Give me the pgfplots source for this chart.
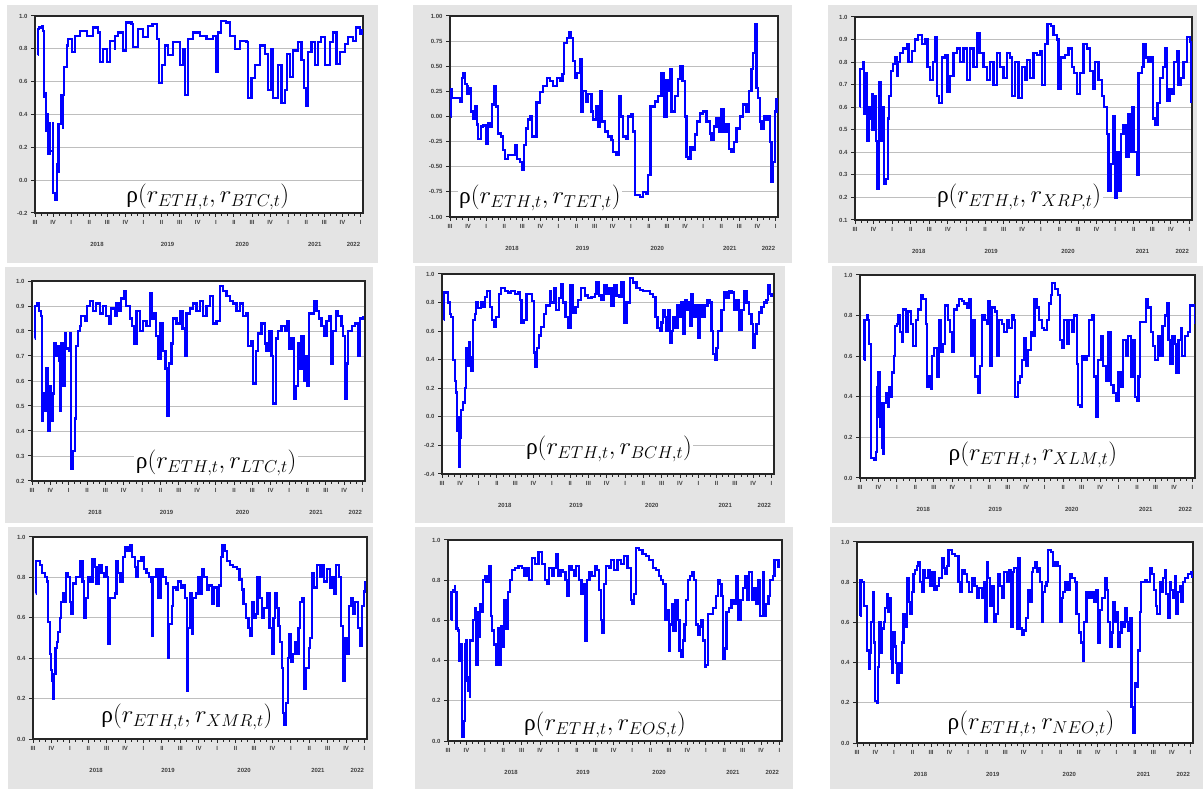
\documentclass[border=0pt]{standalone}
\usepackage{fontspec}
\setmainfont{Liberation Sans}
\newfontfamily\rhofont{Liberation Serif}
\usepackage{pgfplots}
\pgfplotsset{compat=1.18}

\definecolor{panelbg}{HTML}{E4E4E4}
\definecolor{gridc}{HTML}{BEBEBE}

\newcommand\corrlabel[1]{{\rhofont ρ}$(r_{ETH,t}, r_{#1,t})$}
\newcommand\tickfont{\fontsize{6}{7}\selectfont\bfseries}
\newcommand\yearlabels{%
  \node[font=\tickfont, text=black!75] at (rel axis cs:0.189,0) [yshift=-31bp] {2018};
  \node[font=\tickfont, text=black!75] at (rel axis cs:0.404,0) [yshift=-31bp] {2019};
  \node[font=\tickfont, text=black!75] at (rel axis cs:0.632,0) [yshift=-31bp] {2020};
  \node[font=\tickfont, text=black!75] at (rel axis cs:0.853,0) [yshift=-31bp] {2021};
  \node[font=\tickfont, text=black!75] at (rel axis cs:0.971,0) [yshift=-31bp] {2022};
}

\tikzset{rholabel/.style={fill=white, inner sep=1.5bp, font=\fontsize{23.5}{25}\selectfont}}

\pgfplotsset{
  panel/.style={
    scale only axis, anchor=south west,
    xmin=0, xmax=54.4,
    axis background/.style={fill=white},
    axis line style={line width=1.3pt, black!85},
    xtick={0,3,...,54},
    xticklabels={III,IV,I,II,III,IV,I,II,III,IV,I,II,III,IV,I,II,III,IV,I},
    minor x tick num=2,
    tick align=outside, tick pos=left,
    major tick length=4bp, minor tick length=3bp,
    every tick/.style={black!85, line width=1pt},
    ymajorgrids, grid style={gridc, line width=0.9pt},
    ticklabel style={font=\tickfont, text=black!75},
    /pgf/number format/assume math mode=true,
    yticklabel style={/pgf/number format/.cd, fixed, fixed zerofill, precision=1},
    clip mode=individual,
  },
  series/.style={const plot, color=blue, line width=2.2pt, mark=none},
}

\begin{document}
\begin{tikzpicture}
\path (0,0) rectangle (1203bp,789bp);
% panel backgrounds
\fill[panelbg] (7bp,526bp) rectangle (378bp,784bp);
\fill[panelbg] (413bp,526bp) rectangle (792bp,784bp);
\fill[panelbg] (828bp,526bp) rectangle (1197bp,784bp);
\fill[panelbg] (5bp,266bp) rectangle (373bp,522bp);
\fill[panelbg] (415bp,266bp) rectangle (785bp,523bp);
\fill[panelbg] (832bp,266bp) rectangle (1203bp,523bp);
\fill[panelbg] (8bp,0bp) rectangle (373bp,262bp);
\fill[panelbg] (415bp,0bp) rectangle (793bp,262bp);
\fill[panelbg] (830bp,0bp) rectangle (1203bp,262bp);

% ETH-BTC
\begin{axis}[panel, at={(35bp,576bp)}, width=328bp, height=197bp,
  ymin=-0.2, ymax=1.0, ytick={-0.2,0,0.2,0.4,0.6,0.8,1.0}]
\addplot[series] coordinates {(0.44,0.76)(0.46,0.92)(0.72,0.93)(1.1,0.94)(1.27,0.91)(1.55,0.51)(1.82,0.53)(1.85,0.30)(2.1,0.40)(2.13,0.16)(2.5,0.35)(2.53,0.18)(2.93,0.35)(2.96,-0.08)(3.3,-0.12)(3.6,0.10)(3.87,0.05)(3.9,0.34)(4.25,0.35)(4.28,0.52)(4.6,0.32)(4.63,0.52)(4.86,0.69)(5.25,0.82)(5.52,0.86)(6.08,0.83)(6.11,0.78)(6.63,0.88)(7.46,0.91)(8.56,0.88)(9.67,0.93)(10.5,0.90)(10.77,0.72)(11.33,0.8)(11.88,0.72)(12.43,0.85)(13.26,0.8)(13.29,0.88)(13.81,0.9)(14.64,0.79)(15.08,0.96)(16.02,0.95)(16.3,0.81)(17.13,0.92)(17.96,0.87)(18.78,0.94)(19.5,0.95)(20.17,0.86)(20.6,0.59)(21.0,0.7)(21.55,0.82)(22.1,0.76)(22.93,0.84)(24.03,0.7)(24.48,0.8)(24.86,0.52)(25.41,0.86)(26.24,0.9)(27.35,0.88)(28.45,0.86)(29.56,0.88)(30.0,0.66)(30.39,0.9)(30.83,0.97)(31.66,0.96)(32.32,0.88)(33.15,0.8)(33.98,0.85)(35.08,0.84)(35.36,0.5)(35.91,0.62)(36.46,0.7)(37.29,0.82)(38.12,0.77)(38.67,0.55)(39.23,0.8)(39.5,0.5)(40.33,0.7)(40.88,0.47)(41.44,0.55)(41.82,0.77)(42.27,0.63)(42.82,0.79)(43.65,0.84)(44.2,0.73)(44.59,0.56)(44.92,0.45)(45.3,0.78)(45.86,0.84)(46.4,0.7)(46.96,0.84)(47.5,0.87)(48.07,0.7)(48.9,0.84)(49.45,0.9)(50.0,0.71)(50.55,0.78)(51.38,0.83)(51.93,0.87)(52.76,0.85)(53.3,0.93)(53.87,0.89)(54.3,0.92)};
\node[rholabel] at (rel axis cs:0.527,0.081) {\corrlabel{BTC}};
\yearlabels
\end{axis}

% ETH-TET
\begin{axis}[panel, at={(450bp,572bp)}, width=328bp, height=201bp,
  ymin=-1, ymax=1, ytick={-1,-0.75,-0.5,-0.25,0,0.25,0.5,0.75,1},
  yticklabel style={/pgf/number format/.cd, fixed, fixed zerofill, precision=2}]
\addplot[series] coordinates {(0.1,0.0)(0.12,0.27)(0.28,0.18)(1.1,0.18)(1.66,0.15)(1.93,0.38)(2.2,0.43)(2.49,0.32)(2.87,0.3)(2.9,0.22)(3.2,0.28)(3.43,0.05)(3.87,-0.02)(4.14,0.1)(4.42,-0.08)(4.7,-0.22)(5.08,-0.1)(5.52,-0.09)(5.97,-0.27)(6.35,-0.07)(6.63,-0.1)(6.96,0.12)(7.29,0.22)(7.32,0.3)(7.62,0.1)(8.0,-0.17)(8.4,-0.2)(8.84,-0.33)(9.12,-0.42)(9.67,-0.38)(10.22,-0.38)(10.77,-0.28)(11.05,-0.42)(11.6,-0.45)(11.93,-0.53)(12.27,-0.28)(12.6,-0.12)(12.98,-0.03)(13.26,0.0)(13.54,-0.2)(14.09,-0.2)(14.36,0.14)(14.92,0.24)(15.47,0.3)(16.02,0.38)(16.57,0.35)(17.13,0.3)(17.68,0.38)(18.23,0.35)(18.67,0.42)(18.95,0.73)(19.34,0.78)(19.72,0.84)(20.06,0.78)(20.44,0.55)(20.72,0.38)(21.1,0.43)(21.55,0.57)(21.82,0.05)(22.1,0.25)(22.54,0.15)(22.93,0.22)(23.48,0.05)(23.76,-0.03)(24.3,0.1)(24.6,-0.1)(24.86,0.25)(25.14,-0.05)(25.7,-0.15)(26.24,-0.2)(26.8,-0.23)(27.07,-0.35)(27.62,-0.38)(28.0,0.2)(28.34,0.0)(28.73,-0.2)(29.17,-0.22)(29.56,0.0)(30.1,0.02)(30.39,-0.15)(30.66,-0.78)(31.5,-0.8)(32.04,-0.75)(32.6,-0.77)(32.87,-0.58)(33.26,0.1)(33.98,0.15)(34.53,0.2)(35.08,0.43)(35.47,0.0)(35.9,0.36)(36.2,0.25)(36.46,0.47)(36.74,0.05)(37.29,0.2)(37.85,0.37)(38.23,0.5)(38.56,0.35)(38.95,0.0)(39.23,-0.4)(39.5,-0.42)(39.9,-0.3)(40.22,-0.33)(40.6,-0.18)(41.0,-0.05)(41.44,0.03)(42.0,0.05)(42.54,-0.05)(43.1,-0.17)(43.37,-0.23)(43.76,-0.1)(44.2,-0.02)(44.64,-0.15)(45.03,0.07)(45.41,-0.15)(45.86,-0.08)(46.3,-0.32)(46.69,-0.35)(47.07,-0.25)(47.51,-0.12)(48.07,0.0)(48.62,0.12)(49.17,0.05)(49.61,0.25)(50.0,0.47)(50.28,0.63)(50.55,0.92)(50.83,0.28)(51.1,0.18)(51.38,-0.05)(51.66,-0.12)(52.04,0.0)(52.49,-0.03)(52.76,0.0)(53.04,-0.25)(53.31,-0.65)(53.6,-0.45)(53.87,0.05)(54.14,0.18)};
\node[rholabel] at (rel axis cs:0.274,0.095) {\corrlabel{TET}};
\yearlabels
\end{axis}

% ETH-XRP
\begin{axis}[panel, at={(855bp,569bp)}, width=337bp, height=203bp,
  ymin=0.1, ymax=1.0, ytick={0.1,0.2,0.3,0.4,0.5,0.6,0.7,0.8,0.9,1.0}]
\addplot[series] coordinates {(0.81,0.6)(0.83,0.77)(1.24,0.8)(1.5,0.57)(1.78,0.75)(2.0,0.45)(2.3,0.6)(2.53,0.55)(2.8,0.66)(2.83,0.5)(3.12,0.65)(3.34,0.45)(3.6,0.24)(3.88,0.71)(4.15,0.45)(4.42,0.6)(4.68,0.26)(5.0,0.28)(5.28,0.55)(5.55,0.65)(5.82,0.76)(6.08,0.79)(6.46,0.82)(6.73,0.74)(7.0,0.8)(7.27,0.84)(7.81,0.86)(8.35,0.88)(8.62,0.8)(9.15,0.85)(9.69,0.9)(10.23,0.92)(10.77,0.88)(11.31,0.9)(11.69,0.78)(12.12,0.72)(12.55,0.8)(12.92,0.91)(13.19,0.65)(13.62,0.62)(14.0,0.82)(14.54,0.83)(14.92,0.67)(15.35,0.74)(15.89,0.84)(16.42,0.86)(16.96,0.8)(17.5,0.86)(18.04,0.72)(18.58,0.86)(19.12,0.78)(19.66,0.93)(20.09,0.84)(20.73,0.78)(21.27,0.72)(21.81,0.8)(22.35,0.7)(22.89,0.84)(23.42,0.78)(23.96,0.73)(24.5,0.84)(25.04,0.82)(25.31,0.65)(25.85,0.8)(26.39,0.64)(26.93,0.78)(27.46,0.72)(27.73,0.81)(28.27,0.73)(28.81,0.84)(29.35,0.83)(29.89,0.85)(30.16,0.7)(30.69,0.88)(31.07,0.97)(31.61,0.96)(32.04,0.92)(32.58,0.9)(32.85,0.68)(33.23,0.82)(33.93,0.83)(34.46,0.86)(35.0,0.78)(35.38,0.75)(35.81,0.66)(36.35,0.75)(36.89,0.88)(37.43,0.86)(37.96,0.76)(38.39,0.68)(38.77,0.8)(39.31,0.72)(39.85,0.65)(40.23,0.6)(40.66,0.48)(40.93,0.23)(41.3,0.35)(41.73,0.56)(42.0,0.2)(42.27,0.4)(42.54,0.23)(42.92,0.48)(43.35,0.52)(43.78,0.38)(44.16,0.57)(44.43,0.4)(44.7,0.6)(45.07,0.4)(45.5,0.3)(45.77,0.75)(46.31,0.78)(46.58,0.88)(47.01,0.82)(47.39,0.8)(47.82,0.82)(48.09,0.55)(48.47,0.52)(48.84,0.62)(49.27,0.73)(49.7,0.78)(50.08,0.86)(50.35,0.63)(50.78,0.68)(51.16,0.66)(51.53,0.8)(51.97,0.85)(52.23,0.7)(52.61,0.73)(53.04,0.8)(53.58,0.91)(54.01,0.89)(54.23,0.62)};
\node[rholabel] at (rel axis cs:0.487,0.113) {\corrlabel{XRP}};
\yearlabels
\end{axis}

% ETH-LTC
\begin{axis}[panel, at={(32bp,308bp)}, width=333bp, height=200bp,
  ymin=0.2, ymax=1.0, ytick={0.2,0.3,0.4,0.5,0.6,0.7,0.8,0.9,1.0}]
\addplot[series] coordinates {(0.44,0.77)(0.46,0.9)(0.82,0.91)(1.14,0.88)(1.42,0.86)(1.58,0.44)(1.8,0.55)(2.07,0.48)(2.34,0.65)(2.62,0.4)(2.89,0.58)(3.16,0.44)(3.43,0.55)(3.6,0.75)(3.87,0.7)(4.09,0.74)(4.36,0.68)(4.52,0.48)(4.8,0.75)(5.07,0.58)(5.34,0.79)(5.61,0.73)(5.99,0.72)(6.27,0.79)(6.43,0.25)(6.7,0.32)(6.98,0.45)(7.25,0.74)(7.52,0.8)(7.79,0.82)(8.07,0.86)(8.61,0.84)(8.99,0.9)(9.43,0.92)(9.97,0.88)(10.52,0.91)(11.06,0.87)(11.61,0.9)(12.15,0.86)(12.59,0.83)(12.97,0.89)(13.51,0.86)(13.79,0.91)(14.17,0.88)(14.6,0.93)(14.99,0.96)(15.42,0.9)(15.97,0.85)(16.4,0.82)(16.68,0.75)(17.06,0.88)(17.6,0.8)(18.15,0.84)(18.69,0.82)(19.24,0.95)(19.51,0.85)(19.89,0.87)(20.22,0.78)(20.6,0.69)(20.98,0.83)(21.42,0.72)(21.8,0.65)(22.07,0.62)(22.1,0.46)(22.4,0.67)(22.78,0.75)(23.05,0.85)(23.6,0.83)(24.14,0.88)(24.58,0.81)(24.96,0.7)(25.23,0.87)(25.78,0.89)(26.32,0.91)(26.87,0.88)(27.41,0.92)(27.96,0.86)(28.5,0.9)(29.05,0.94)(29.59,0.83)(30.14,0.84)(30.68,0.98)(31.23,0.96)(31.77,0.94)(32.32,0.92)(32.86,0.91)(33.41,0.88)(33.95,0.91)(34.5,0.86)(35.04,0.87)(35.31,0.74)(35.86,0.76)(36.13,0.59)(36.57,0.72)(36.95,0.79)(37.49,0.83)(38.04,0.75)(38.31,0.72)(38.75,0.8)(39.13,0.7)(39.4,0.51)(39.84,0.77)(40.22,0.8)(40.76,0.82)(41.31,0.8)(41.69,0.84)(42.02,0.73)(42.4,0.77)(42.78,0.53)(43.11,0.58)(43.49,0.75)(43.76,0.65)(44.03,0.78)(44.41,0.6)(44.74,0.7)(44.96,0.58)(45.29,0.87)(45.67,0.87)(46.05,0.92)(46.49,0.88)(46.92,0.85)(47.3,0.82)(47.68,0.78)(48.12,0.84)(48.56,0.86)(48.83,0.67)(49.21,0.8)(49.65,0.88)(50.03,0.86)(50.57,0.82)(50.84,0.78)(51.12,0.53)(51.39,0.67)(51.66,0.8)(52.21,0.82)(52.75,0.83)(53.3,0.7)(53.57,0.85)(54.11,0.86)};
\node[rholabel] at (rel axis cs:0.553,0.09) {\corrlabel{LTC}};
\yearlabels
\end{axis}

% ETH-BCH
\begin{axis}[panel, at={(442bp,315bp)}, width=332bp, height=200bp,
  ymin=-0.4, ymax=1.0, ytick={-0.4,-0.2,0,0.2,0.4,0.6,0.8,1.0}]
\addplot[series] coordinates {(0.33,0.68)(0.35,0.87)(0.71,0.87)(0.98,0.8)(1.26,0.72)(1.53,0.7)(1.8,0.4)(2.08,0.25)(2.24,0.17)(2.46,0.1)(2.49,-0.1)(2.62,0.0)(2.79,-0.35)(3.0,-0.15)(3.17,0.05)(3.44,0.1)(3.72,0.2)(3.88,0.48)(4.15,0.36)(4.37,0.52)(4.59,0.42)(4.81,0.32)(5.08,0.68)(5.36,0.72)(5.52,0.8)(5.9,0.76)(6.34,0.8)(6.72,0.77)(6.99,0.84)(7.43,0.88)(7.81,0.77)(8.2,0.68)(8.52,0.63)(8.91,0.7)(9.29,0.86)(9.73,0.9)(10.27,0.88)(10.82,0.87)(11.37,0.88)(11.91,0.86)(12.46,0.87)(12.73,0.82)(13.01,0.66)(13.44,0.68)(13.83,0.86)(14.37,0.86)(14.75,0.81)(15.08,0.45)(15.3,0.35)(15.63,0.48)(15.9,0.57)(16.28,0.63)(16.72,0.72)(17.1,0.78)(17.65,0.88)(17.92,0.8)(18.36,0.9)(18.74,0.75)(19.13,0.83)(19.45,0.93)(19.84,0.8)(20.22,0.7)(20.66,0.62)(21.04,0.92)(21.48,0.73)(21.86,0.77)(22.3,0.82)(22.84,0.9)(23.39,0.85)(23.93,0.83)(24.48,0.84)(25.03,0.86)(25.3,0.94)(25.68,0.85)(26.12,0.82)(26.56,0.92)(26.94,0.86)(27.32,0.9)(27.76,0.78)(28.2,0.92)(28.58,0.85)(28.96,0.84)(29.4,0.94)(29.84,0.66)(30.22,0.8)(30.77,0.97)(31.31,0.94)(31.86,0.9)(32.4,0.89)(32.95,0.88)(33.5,0.88)(34.04,0.86)(34.59,0.84)(34.97,0.7)(35.3,0.62)(35.68,0.6)(35.96,0.66)(36.23,0.75)(36.5,0.7)(36.78,0.6)(37.05,0.75)(37.32,0.52)(37.6,0.6)(37.87,0.7)(38.25,0.62)(38.58,0.78)(38.96,0.7)(39.23,0.8)(39.51,0.58)(39.78,0.82)(40.05,0.75)(40.33,0.8)(40.6,0.64)(40.87,0.86)(41.15,0.7)(41.53,0.78)(41.97,0.55)(42.24,0.78)(42.68,0.7)(43.06,0.78)(43.5,0.82)(43.88,0.8)(44.15,0.6)(44.43,0.44)(44.7,0.4)(44.97,0.48)(45.25,0.6)(45.79,0.75)(46.23,0.87)(46.61,0.83)(47.0,0.88)(47.43,0.87)(47.87,0.75)(48.25,0.82)(48.69,0.61)(49.07,0.75)(49.51,0.88)(49.89,0.8)(50.27,0.72)(50.71,0.65)(50.98,0.48)(51.26,0.58)(51.53,0.65)(51.91,0.73)(52.35,0.77)(52.79,0.8)(53.17,0.82)(53.44,0.92)(53.72,0.86)(53.99,0.84)};
\node[rholabel] at (rel axis cs:0.503,0.125) {\corrlabel{BCH}};
\yearlabels
\end{axis}

% ETH-XLM
\begin{axis}[panel, at={(860bp,311bp)}, width=335bp, height=203bp,
  ymin=0, ymax=1.0, ytick={0,0.2,0.4,0.6,0.8,1.0}]
\addplot[series] coordinates {(0.7,0.58)(0.72,0.78)(1.08,0.8)(1.35,0.78)(1.52,0.66)(1.73,0.1)(2.0,0.1)(2.27,0.09)(2.54,0.13)(2.76,0.45)(2.98,0.3)(3.0,0.52)(3.25,0.25)(3.52,0.15)(3.55,0.37)(3.79,0.12)(3.95,0.37)(4.22,0.42)(4.49,0.35)(4.71,0.45)(4.98,0.4)(5.25,0.52)(5.47,0.6)(5.68,0.75)(5.96,0.76)(6.23,0.8)(6.5,0.72)(6.77,0.67)(7.04,0.83)(7.42,0.72)(7.85,0.82)(8.28,0.76)(8.66,0.65)(9.04,0.78)(9.47,0.83)(9.91,0.9)(10.29,0.88)(10.67,0.76)(10.94,0.45)(11.21,0.5)(11.53,0.44)(11.75,0.6)(12.07,0.64)(12.45,0.5)(12.83,0.78)(13.16,0.62)(13.54,0.66)(13.81,0.85)(14.24,0.78)(14.62,0.72)(15.0,0.62)(15.32,0.83)(15.7,0.85)(16.08,0.88)(16.51,0.87)(16.95,0.86)(17.33,0.84)(17.7,0.88)(18.03,0.6)(18.41,0.78)(18.68,0.5)(19.11,0.42)(19.49,0.55)(19.76,0.8)(20.2,0.78)(20.57,0.76)(20.84,0.87)(21.12,0.55)(21.39,0.84)(21.93,0.82)(22.2,0.6)(22.58,0.78)(23.01,0.76)(23.44,0.72)(23.82,0.78)(24.2,0.74)(24.63,0.8)(24.91,0.78)(25.18,0.4)(25.61,0.47)(25.99,0.5)(26.37,0.58)(26.69,0.69)(26.96,0.55)(27.34,0.63)(27.78,0.72)(27.99,0.7)(28.32,0.88)(28.7,0.84)(29.07,0.78)(29.51,0.74)(29.94,0.73)(30.32,0.78)(30.7,0.86)(31.02,0.9)(31.24,0.96)(31.67,0.93)(32.11,0.9)(32.49,0.68)(32.76,0.64)(33.19,0.78)(33.57,0.66)(33.95,0.78)(34.38,0.72)(34.81,0.8)(35.19,0.56)(35.46,0.36)(35.73,0.35)(36.01,0.6)(36.44,0.58)(36.82,0.6)(37.2,0.78)(37.63,0.8)(38.06,0.5)(38.33,0.3)(38.71,0.58)(39.14,0.7)(39.52,0.55)(39.9,0.48)(40.34,0.72)(40.77,0.46)(41.15,0.42)(41.53,0.38)(41.96,0.52)(42.39,0.45)(42.77,0.68)(43.15,0.6)(43.58,0.7)(44.02,0.5)(44.4,0.68)(44.67,0.4)(44.94,0.38)(45.21,0.5)(45.48,0.77)(46.02,0.77)(46.45,0.88)(46.83,0.84)(47.27,0.72)(47.64,0.65)(47.92,0.58)(48.35,0.7)(48.73,0.6)(49.11,0.75)(49.54,0.8)(49.81,0.86)(50.08,0.68)(50.35,0.56)(50.73,0.7)(51.16,0.66)(51.33,0.52)(51.71,0.68)(52.08,0.74)(52.35,0.6)(52.79,0.7)(53.22,0.72)(53.6,0.85)(54.14,0.85)(54.41,0.76)};
\node[rholabel] at (rel axis cs:0.516,0.113) {\corrlabel{XLM}};
\yearlabels
\end{axis}

% ETH-XMR
\begin{axis}[panel, at={(33bp,50bp)}, width=334bp, height=202bp,
  ymin=0, ymax=1.0, ytick={0,0.2,0.4,0.6,0.8,1.0}]
\addplot[series] coordinates {(0.44,0.72)(0.46,0.88)(0.82,0.88)(1.2,0.86)(1.52,0.82)(1.9,0.8)(2.29,0.78)(2.5,0.58)(2.72,0.42)(2.88,0.34)(3.1,0.29)(3.26,0.2)(3.43,0.32)(3.65,0.45)(3.92,0.48)(4.13,0.53)(4.35,0.6)(4.62,0.68)(4.9,0.72)(5.17,0.68)(5.44,0.82)(5.71,0.8)(5.98,0.68)(6.26,0.62)(6.53,0.77)(6.96,0.8)(7.34,0.8)(7.62,0.88)(8.05,0.78)(8.27,0.6)(8.6,0.7)(8.98,0.8)(9.36,0.78)(9.68,0.89)(10.07,0.85)(10.34,0.77)(10.77,0.86)(11.15,0.82)(11.53,0.8)(11.86,0.85)(12.08,0.8)(12.24,0.47)(12.51,0.7)(12.95,0.7)(13.33,0.72)(13.6,0.88)(13.87,0.82)(14.25,0.78)(14.69,0.9)(14.96,0.95)(15.4,0.93)(15.78,0.96)(16.16,0.9)(16.59,0.85)(16.87,0.8)(17.14,0.88)(17.68,0.9)(18.06,0.84)(18.5,0.82)(18.93,0.8)(19.31,0.78)(19.34,0.51)(19.59,0.8)(20.02,0.84)(20.4,0.7)(20.78,0.84)(21.22,0.8)(21.6,0.77)(21.93,0.4)(22.2,0.57)(22.58,0.66)(22.85,0.75)(23.29,0.74)(23.67,0.78)(24.05,0.75)(24.37,0.76)(24.76,0.7)(25.03,0.24)(25.3,0.55)(25.57,0.72)(25.84,0.52)(26.12,0.7)(26.55,0.72)(26.93,0.8)(27.2,0.72)(27.48,0.84)(27.86,0.8)(28.29,0.74)(28.73,0.76)(29.11,0.67)(29.49,0.75)(29.92,0.66)(30.25,0.76)(30.58,0.9)(30.85,0.96)(31.28,0.93)(31.66,0.88)(32.1,0.86)(32.64,0.85)(33.19,0.84)(33.62,0.79)(34.0,0.74)(34.28,0.67)(34.71,0.6)(35.09,0.55)(35.36,0.51)(35.64,0.68)(35.91,0.6)(36.34,0.62)(36.56,0.8)(36.89,0.7)(37.27,0.6)(37.65,0.65)(38.08,0.72)(38.52,0.55)(38.9,0.42)(39.17,0.6)(39.45,0.72)(39.72,0.65)(39.99,0.56)(40.26,0.48)(40.53,0.35)(40.7,0.13)(40.97,0.07)(41.24,0.18)(41.51,0.4)(41.78,0.52)(42.0,0.38)(42.33,0.42)(42.71,0.48)(42.98,0.42)(43.25,0.55)(43.53,0.68)(43.85,0.7)(44.18,0.25)(44.5,0.35)(44.89,0.45)(45.16,0.5)(45.43,0.82)(45.81,0.75)(46.25,0.86)(46.68,0.8)(47.06,0.86)(47.44,0.78)(47.88,0.84)(48.31,0.75)(48.69,0.8)(48.97,0.72)(49.4,0.86)(49.78,0.8)(50.16,0.56)(50.49,0.29)(50.76,0.5)(51.14,0.42)(51.41,0.66)(51.8,0.7)(52.12,0.62)(52.5,0.68)(52.88,0.55)(53.21,0.46)(53.59,0.66)(53.86,0.73)(54.13,0.78)};
\node[rholabel] at (rel axis cs:0.461,0.109) {\corrlabel{XMR}};
\yearlabels
\end{axis}

% ETH-EOS
\begin{axis}[panel, at={(448bp,48bp)}, width=334bp, height=201bp,
  ymin=0, ymax=1.0, ytick={0,0.2,0.4,0.6,0.8,1.0}]
\addplot[series] coordinates {(0.55,0.6)(0.57,0.74)(0.82,0.75)(1.09,0.77)(1.12,0.74)(1.37,0.56)(1.64,0.55)(1.8,0.4)(2.08,0.48)(2.3,0.02)(2.51,0.1)(2.73,0.48)(2.76,0.3)(3.0,0.5)(3.03,0.32)(3.28,0.25)(3.55,0.22)(3.58,0.5)(3.83,0.5)(4.1,0.6)(4.37,0.66)(4.54,0.38)(4.81,0.64)(5.03,0.52)(5.25,0.68)(5.46,0.64)(5.74,0.8)(6.01,0.82)(6.28,0.79)(6.67,0.87)(6.99,0.62)(7.21,0.55)(7.54,0.48)(7.76,0.38)(8.09,0.56)(8.36,0.38)(8.63,0.57)(8.91,0.47)(9.18,0.7)(9.45,0.56)(9.73,0.74)(10.05,0.8)(10.38,0.85)(10.93,0.86)(11.48,0.87)(12.02,0.86)(12.46,0.82)(12.84,0.86)(13.22,0.8)(13.66,0.91)(14.21,0.88)(14.75,0.94)(15.3,0.88)(15.74,0.8)(16.12,0.78)(16.5,0.86)(16.94,0.82)(17.32,0.86)(17.6,0.93)(17.92,0.82)(18.31,0.85)(18.69,0.84)(19.13,0.8)(19.4,0.72)(19.67,0.87)(20.11,0.85)(20.49,0.82)(20.87,0.87)(21.31,0.8)(21.75,0.73)(22.13,0.78)(22.4,0.5)(22.68,0.8)(23.06,0.84)(23.5,0.82)(23.93,0.87)(24.32,0.85)(24.59,0.75)(24.86,0.6)(25.14,0.54)(25.41,0.78)(25.68,0.87)(26.23,0.86)(26.5,0.9)(27.05,0.85)(27.6,0.9)(28.14,0.88)(28.69,0.92)(29.23,0.86)(29.78,0.7)(30.05,0.68)(30.33,0.73)(30.6,0.96)(31.15,0.95)(31.69,0.93)(32.24,0.92)(32.79,0.9)(33.33,0.86)(33.88,0.85)(34.32,0.82)(34.7,0.8)(35.08,0.78)(35.41,0.6)(35.63,0.65)(35.96,0.45)(36.17,0.58)(36.5,0.68)(36.72,0.55)(37.05,0.7)(37.43,0.6)(37.7,0.45)(37.98,0.42)(38.25,0.5)(38.52,0.58)(38.8,0.7)(39.07,0.8)(39.45,0.82)(39.78,0.84)(40.0,0.8)(40.33,0.58)(40.71,0.53)(40.98,0.57)(41.26,0.6)(41.53,0.5)(41.8,0.37)(42.08,0.38)(42.35,0.63)(42.73,0.63)(43.17,0.66)(43.61,0.72)(43.99,0.8)(44.26,0.78)(44.54,0.72)(44.81,0.41)(45.08,0.46)(45.36,0.64)(45.79,0.66)(46.17,0.7)(46.56,0.68)(46.89,0.82)(47.27,0.6)(47.65,0.7)(48.09,0.76)(48.36,0.82)(48.74,0.7)(49.07,0.84)(49.45,0.7)(49.84,0.76)(50.16,0.68)(50.55,0.8)(50.82,0.62)(51.26,0.84)(51.48,0.62)(51.8,0.68)(52.19,0.72)(52.46,0.8)(52.9,0.82)(53.17,0.9)(53.55,0.9)(53.83,0.86)};
\node[rholabel] at (rel axis cs:0.47,0.08) {\corrlabel{EOS}};
\yearlabels
\end{axis}

% ETH-NEO
\begin{axis}[panel, at={(857bp,46bp)}, width=336bp, height=201bp,
  ymin=0, ymax=1.0, ytick={0,0.2,0.4,0.6,0.8,1.0}]
\addplot[series] coordinates {(0.54,0.63)(0.56,0.81)(0.81,0.8)(1.08,0.68)(1.35,0.68)(1.62,0.46)(1.88,0.37)(2.05,0.45)(2.26,0.6)(2.53,0.75)(2.75,0.5)(2.96,0.21)(3.23,0.2)(3.39,0.38)(3.61,0.6)(3.82,0.45)(4.04,0.57)(4.31,0.6)(4.58,0.67)(4.85,0.74)(5.01,0.65)(5.22,0.72)(5.44,0.42)(5.65,0.35)(5.87,0.55)(6.09,0.48)(6.3,0.4)(6.52,0.3)(6.73,0.4)(7.0,0.35)(7.27,0.5)(7.54,0.64)(7.81,0.58)(8.08,0.82)(8.35,0.7)(8.62,0.64)(8.89,0.75)(9.15,0.84)(9.42,0.86)(9.69,0.88)(9.96,0.9)(10.23,0.8)(10.5,0.75)(10.77,0.86)(11.04,0.82)(11.58,0.86)(11.85,0.78)(12.12,0.85)(12.55,0.76)(12.92,0.78)(13.3,0.82)(13.73,0.92)(14.0,0.87)(14.27,0.84)(14.54,0.88)(14.81,0.96)(15.35,0.94)(15.89,0.93)(16.42,0.8)(16.69,0.75)(16.96,0.86)(17.39,0.84)(17.77,0.8)(18.15,0.75)(18.58,0.82)(19.01,0.78)(19.39,0.72)(19.76,0.77)(20.19,0.72)(20.57,0.8)(20.73,0.6)(21.0,0.9)(21.27,0.82)(21.54,0.68)(21.81,0.78)(22.19,0.6)(22.46,0.64)(22.78,0.84)(23.16,0.78)(23.53,0.72)(23.86,0.85)(24.23,0.8)(24.61,0.86)(24.93,0.58)(25.2,0.85)(25.47,0.87)(25.85,0.57)(26.12,0.92)(26.39,0.57)(26.76,0.54)(27.09,0.56)(27.36,0.62)(27.73,0.76)(28.0,0.7)(28.27,0.85)(28.54,0.87)(28.81,0.9)(29.08,0.85)(29.35,0.87)(29.62,0.8)(29.89,0.6)(30.16,0.75)(30.43,0.78)(30.69,0.8)(30.96,0.96)(31.39,0.95)(31.77,0.88)(32.15,0.9)(32.58,0.88)(32.85,0.6)(33.12,0.72)(33.39,0.75)(33.66,0.8)(34.09,0.76)(34.46,0.84)(34.84,0.82)(35.27,0.8)(35.54,0.64)(35.92,0.55)(36.24,0.5)(36.56,0.41)(36.78,0.6)(37.16,0.75)(37.53,0.72)(37.96,0.75)(38.39,0.7)(38.77,0.76)(39.04,0.5)(39.31,0.66)(39.69,0.72)(40.12,0.82)(40.39,0.76)(40.66,0.6)(40.93,0.48)(41.2,0.55)(41.46,0.7)(41.73,0.6)(42.0,0.65)(42.27,0.48)(42.54,0.55)(42.81,0.6)(43.08,0.58)(43.35,0.67)(43.62,0.6)(43.89,0.56)(44.16,0.62)(44.43,0.18)(44.7,0.05)(44.96,0.3)(45.23,0.28)(45.5,0.46)(45.77,0.65)(46.04,0.8)(46.58,0.81)(47.01,0.8)(47.39,0.87)(47.77,0.84)(48.09,0.76)(48.41,0.68)(48.63,0.64)(49.0,0.8)(49.27,0.75)(49.54,0.82)(49.81,0.86)(50.08,0.74)(50.35,0.62)(50.62,0.8)(50.89,0.76)(51.16,0.72)(51.43,0.83)(51.7,0.64)(51.97,0.75)(52.23,0.78)(52.5,0.7)(52.77,0.8)(53.15,0.82)(53.58,0.84)(54.01,0.85)(54.28,0.82)};
\node[rholabel] at (rel axis cs:0.518,0.095) {\corrlabel{NEO}};
\yearlabels
\end{axis}
\end{tikzpicture}
\end{document}
